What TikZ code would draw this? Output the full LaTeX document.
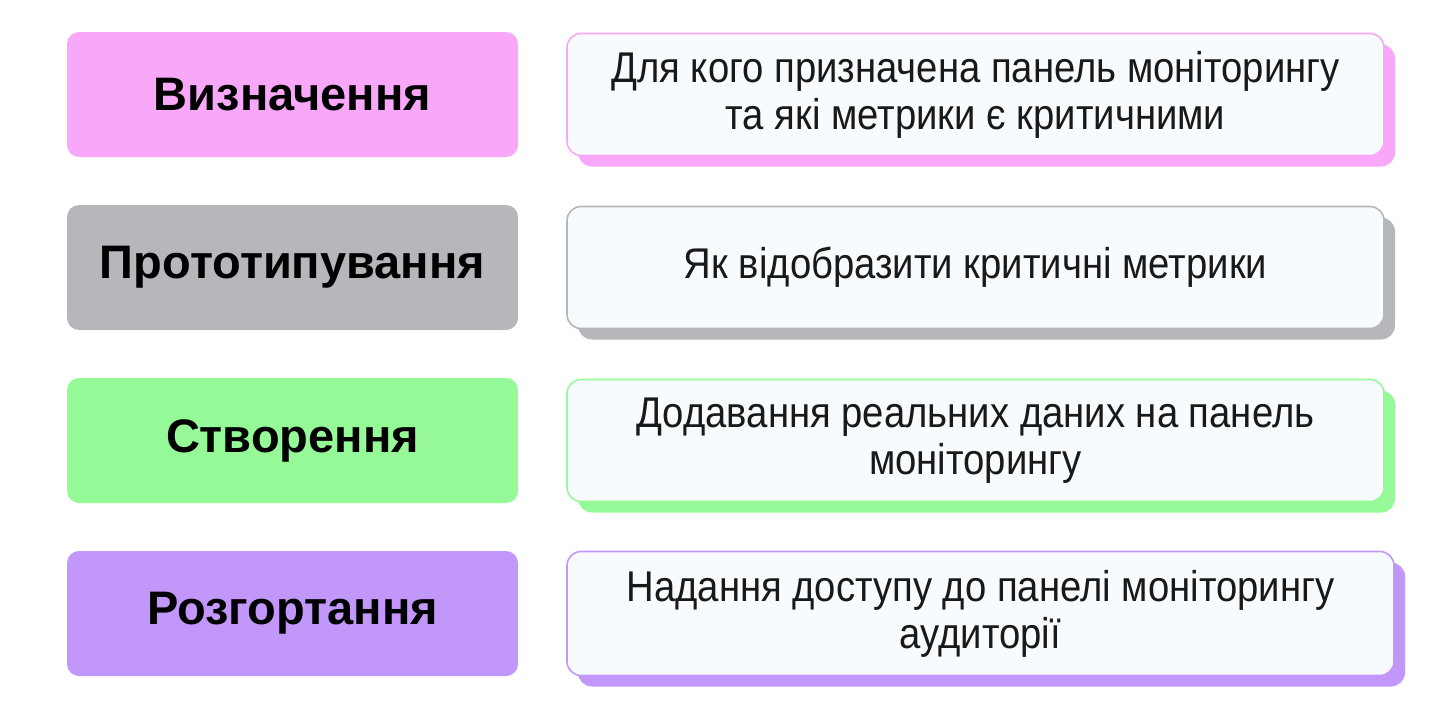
\documentclass[tikz,border=0pt]{standalone}
\usepackage{fontspec}
\setmainfont{Liberation Sans}
\newfontfamily\narrowfont[FakeStretch=0.89]{Liberation Sans}
\usepackage{tikz}
\usetikzlibrary{shadows}
\definecolor{cpink}{HTML}{F9A8F9}
\definecolor{cgray}{HTML}{B6B7BB}
\definecolor{cgreen}{HTML}{95F997}
\definecolor{cpurple}{HTML}{C197FA}
\definecolor{cpaper}{HTML}{F8FBFD}

\begin{document}
\begin{tikzpicture}[x=1pt,y=1pt,node distance=173pt,
  stage node/.style={rectangle,rounded corners=12pt,minimum width=451pt,minimum height=125pt,
    font=\fontsize{47}{52}\selectfont\bfseries,text=black},
  desc node/.style={rectangle,rounded corners=14pt,fill=cpaper,draw=#1,line width=1.6pt,
    minimum width=817pt,minimum height=122pt,align=center,
    font=\narrowfont\fontsize{43}{47}\selectfont,text=black!90,
    drop shadow={shadow xshift=11pt,shadow yshift=-11pt,fill=#1,opacity=1}}]
  \useasboundingbox (0,0) rectangle (1436,-715);
  \node[stage node,fill=cpink] (1) at (292.5,-94.5) {Визначення};
  \node[stage node,fill=cgray] (2) [below of=1] {Прототипування};
  \node[stage node,fill=cgreen] (3) [below of=2] {Створення};
  \node[stage node,fill=cpurple] (4) [below of=3] {Розгортання};

  \node[desc node=cpink] (5) [right of=1,node distance=683pt]
    {Для кого призначена панель моніторингу\\та які метрики є критичними};
  \node[desc node=cgray] (6) [right of=2,node distance=683pt]
    {Як відобразити критичні метрики};
  \node[desc node=cgreen] (7) [right of=3,node distance=683pt]
    {Додавання реальних даних на панель\\моніторингу};
  \node[desc node=cpurple,minimum width=827pt,minimum height=124pt] (8) [right of=4,node distance=688pt]
    {Надання доступу до панелі моніторингу\\аудиторії};
\end{tikzpicture}
\end{document}
